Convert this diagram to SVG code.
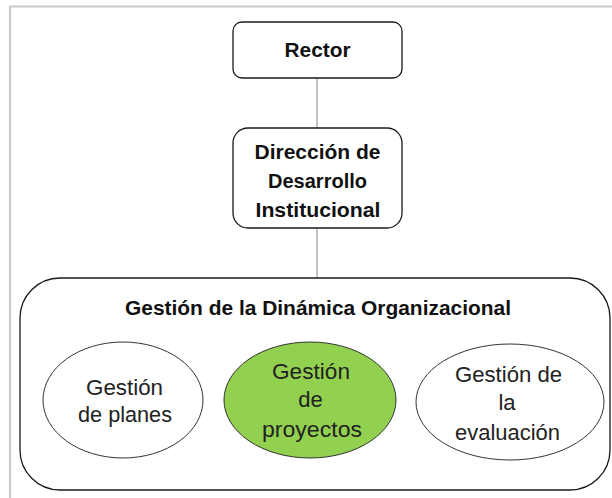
<svg xmlns="http://www.w3.org/2000/svg" width="612" height="498" viewBox="0 0 612 498">
<style>
.box{fill:#fff;stroke:#1a1a1a;stroke-width:1.3}
.ell{fill:#fff;stroke:#333;stroke-width:1}
.green{fill:#92D050}
.b{font-family:"Liberation Sans",Arial,sans-serif;font-weight:bold;font-size:20px;fill:#111;text-anchor:middle}
.r{font-family:"Liberation Sans",Arial,sans-serif;font-size:22px;fill:#222;text-anchor:middle}
.conn{stroke:#999;stroke-width:1.2;fill:none}
</style>
<rect width="612" height="498" fill="#fff"/>
<path d="M10,498 V6.5 H612" fill="none" stroke="#c8c8c8" stroke-width="2"/>
<g id="connectors">
<line class="conn" x1="317" y1="78" x2="317" y2="128"/>
<line class="conn" x1="317" y1="228" x2="317" y2="278"/>
</g>
<g id="rector">
<rect class="box" x="233" y="22" width="169" height="56" rx="9"/>
<text class="b" x="317.5" y="57" textLength="66" lengthAdjust="spacingAndGlyphs">Rector</text>
</g>
<g id="direccion">
<rect class="box" x="233" y="128" width="169" height="100" rx="15"/>
<text class="b" x="317.5" y="159" textLength="126" lengthAdjust="spacingAndGlyphs">Dirección de</text>
<text class="b" x="317.5" y="188" textLength="99" lengthAdjust="spacingAndGlyphs">Desarrollo</text>
<text class="b" x="318" y="217" textLength="125" lengthAdjust="spacingAndGlyphs">Institucional</text>
</g>
<g id="gestion-dinamica">
<rect class="box" x="20" y="278" width="590" height="212" rx="40"/>
<text class="b" x="318" y="315" textLength="386" lengthAdjust="spacingAndGlyphs">Gestión de la Dinámica Organizacional</text>
</g>
<g id="planes">
<ellipse class="ell" cx="123" cy="400" rx="80" ry="58"/>
<text class="r" x="124.5" y="395" textLength="77" lengthAdjust="spacingAndGlyphs">Gestión</text>
<text class="r" x="125" y="422" textLength="94" lengthAdjust="spacingAndGlyphs">de planes</text>
</g>
<g id="proyectos">
<ellipse class="ell green" cx="310" cy="400" rx="86" ry="58"/>
<text class="r" x="311" y="379" textLength="78" lengthAdjust="spacingAndGlyphs">Gestión</text>
<text class="r" x="310.5" y="407">de</text>
<text class="r" x="312" y="437" textLength="100" lengthAdjust="spacingAndGlyphs">proyectos</text>
</g>
<g id="evaluacion">
<ellipse class="ell" cx="510" cy="402" rx="94" ry="58"/>
<text class="r" x="508.5" y="382" textLength="107" lengthAdjust="spacingAndGlyphs">Gestión de</text>
<text class="r" x="507" y="410">la</text>
<text class="r" x="507.5" y="440" textLength="105" lengthAdjust="spacingAndGlyphs">evaluación</text>
</g>
</svg>
